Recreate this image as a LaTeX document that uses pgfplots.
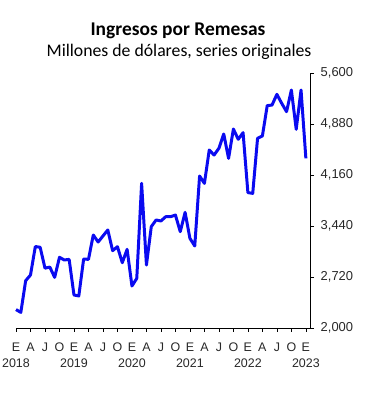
\documentclass[border=0pt]{standalone}
\usepackage{fontspec}
\setmainfont{Liberation Sans}
\newfontfamily\calibri{Carlito}
\usepackage{pgfplots}
\pgfplotsset{compat=1.18}
\definecolor{lineblue}{RGB}{10,10,240}
\definecolor{txt}{RGB}{40,40,40}
\begin{document}
\begin{tikzpicture}
\node[anchor=base, inner sep=0pt, font=\calibri\bfseries\fontsize{19.5}{22}\selectfont] at (178bp,-35bp) {Ingresos por Remesas};
\node[anchor=base, inner sep=0pt, font=\calibri\fontsize{17.8}{20}\selectfont] at (179bp,-56bp) {Millones de dólares, series originales};
\begin{axis}[
  at={(16bp,-328bp)}, anchor=south west,
  scale only axis, width=294.7bp, height=255bp,
  xmin=0, xmax=61, ymin=2000, ymax=5600,
  axis x line=bottom, axis y line=right,
  axis line style={-, black, line width=0.8pt},
  tick style={black, line width=0.6pt},
  tick align=outside, major tick length=3.5bp,
  xtick={0,3,...,60},
  xticklabels={{E\\2018},A,J,O,{E\\2019},A,J,O,{E\\2020},A,J,O,{E\\2021},A,J,O,{E\\2022},A,J,O,{E\\2023}},
  xticklabel style={align=center, text=txt, font=\fontsize{12.5}{16}\selectfont, anchor=north, yshift=-8bp},
  ytick={2000,2720,3440,4160,4880,5600},
  yticklabel style={text=txt, font=\fontsize{13}{15}\selectfont, anchor=west, xshift=3bp},
  /pgf/number format/.cd, 1000 sep={,}, assume math mode=true,
  /pgfplots/.cd,
  clip=false,
]
\addplot[lineblue, line width=3pt, line join=round] coordinates {
(0,2260)(1,2220)(2,2668)(3,2748)(4,3150)(5,3140)(6,2845)(7,2860)(8,2715)(9,2998)(10,2960)(11,2969)
(12,2466)(13,2452)(14,2974)(15,2969)(16,3313)(17,3214)(18,3299)(19,3384)(20,3092)(21,3148)(22,2922)(23,3111)
(24,2593)(25,2701)(26,4042)(27,2889)(28,3431)(29,3525)(30,3511)(31,3572)(32,3572)(33,3595)(34,3360)(35,3633)
(36,3266)(37,3158)(38,4146)(39,4042)(40,4513)(41,4442)(42,4537)(43,4739)(44,4395)(45,4809)(46,4664)(47,4758)
(48,3911)(49,3901)(50,4678)(51,4711)(52,5139)(53,5148)(54,5299)(55,5172)(56,5054)(57,5360)(58,4805)(59,5360)
(60,4395)
};
\end{axis}
\pgfresetboundingbox
\path[use as bounding box] (0bp,0bp) rectangle (372bp,-400bp);
\end{tikzpicture}
\end{document}
